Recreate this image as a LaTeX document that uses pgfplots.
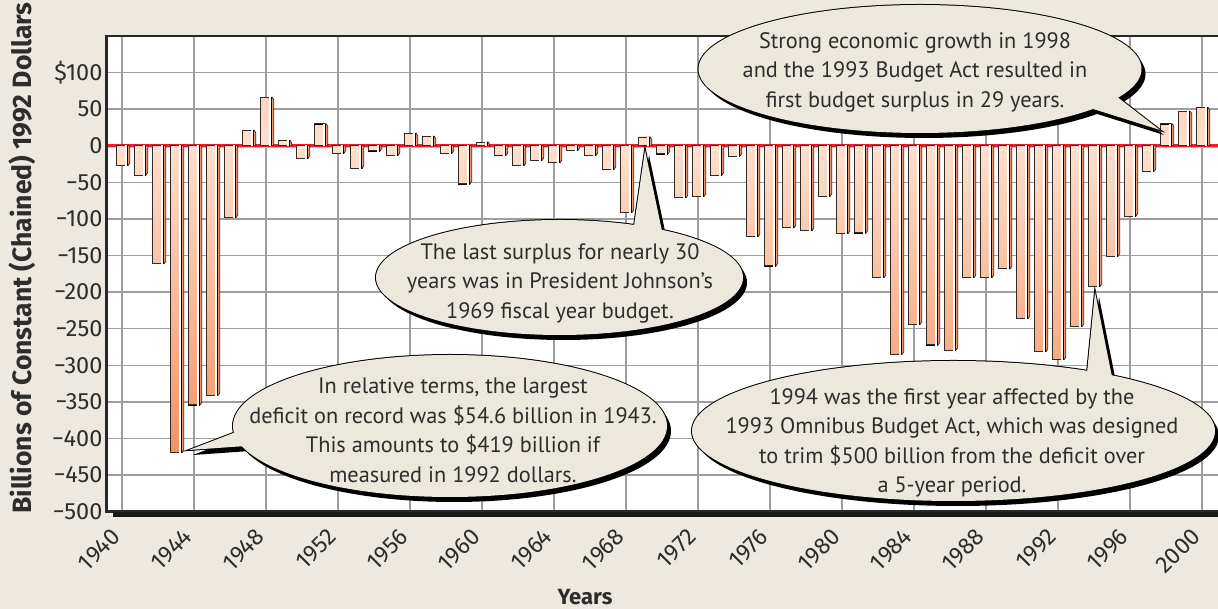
\documentclass[border=0pt]{standalone}
\usepackage{pgfplots}
\usepackage{pgfplotstable}
\pgfplotsset{compat=1.18}
\usepackage{fontspec}
\setmainfont{PT Sans}
\newfontfamily\tickfont{Fira Sans}
\definecolor{bg}{RGB}{237,233,224}
\definecolor{callbg}{RGB}{236,232,222}
\definecolor{gridgray}{RGB}{158,158,158}
\definecolor{zerored}{RGB}{236,30,40}
\definecolor{zeropink}{RGB}{250,170,170}
\definecolor{textdark}{RGB}{45,45,45}
\definecolor{framedark}{RGB}{40,40,40}
\definecolor{bardark}{RGB}{55,42,36}
\definecolor{barside}{RGB}{242,150,108}
\definecolor{barlight}{RGB}{253,224,206}
\definecolor{barorange}{RGB}{244,146,100}
\newcommand\calloutfont{\fontsize{22.3}{29.5}\selectfont}
\newcommand\callout[8]{%
 \fill[black] ([shift={(4,5)}]#1) ellipse [x radius=#2pt, y radius=#3pt];
 \fill[black] ([shift={(4,5)}]#5) -- ([shift={(4,5)}]#4) -- ([shift={(4,5)}]#6) -- cycle;
 \draw[black, line width=2pt] (#1) ellipse [x radius=#2pt, y radius=#3pt];
 \draw[black, line width=2pt, line join=miter] (#5) -- (#4) -- (#6);
 \fill[callbg] (#1) ellipse [x radius=#2pt, y radius=#3pt];
 \fill[callbg] (#5) -- (#4) -- (#6) -- cycle;
 \node[align=center, text=textdark, font=\calloutfont, inner sep=0pt] at (#7) {#8};
}
\pgfplotstableread{
year value
1940 -27
1941 -40
1942 -161
1943 -419
1944 -354
1945 -341
1946 -98
1947 21
1948 66
1949 7
1950 -17
1951 30
1952 -10
1953 -31
1954 -7
1955 -13
1956 17
1957 13
1958 -10
1959 -52
1960 5
1961 -13
1962 -27
1963 -20
1964 -23
1965 -6
1966 -13
1967 -32
1968 -91
1969 12
1970 -11
1971 -71
1972 -69
1973 -40
1974 -14
1975 -124
1976 -164
1977 -112
1978 -116
1979 -69
1980 -120
1981 -119
1982 -180
1983 -285
1984 -244
1985 -272
1986 -279
1987 -180
1988 -180
1989 -168
1990 -236
1991 -281
1992 -292
1993 -247
1994 -192
1995 -151
1996 -96
1997 -35
1998 30
1999 47
2000 52
}\deficit
\begin{document}
\begin{tikzpicture}
\path[use as bounding box, fill=bg] (-106pt,-97.3pt) rectangle (1112pt,511.7pt);
\begin{axis}[
  at={(0pt,0pt)}, anchor=south west,
  scale only axis, width=1112pt, height=475.8pt,
  xmin=1939.11, xmax=2000.89, ymin=-500, ymax=150,
  axis background/.style={fill=white},
  axis line style={draw=none},
  xtick={1940,1944,...,2000},
  xticklabels={1940,1944,1948,1952,1956,1960,1964,1968,1972,1976,1980,1984,1988,1992,1996,2000},
  ytick={-500,-450,...,100},
  yticklabels={−500,−450,−400,−350,−300,−250,−200,−150,−100,−50,0,50,\$100},
  grid=major, major grid style={draw=gridgray, line width=1.3pt},
  major tick length=0pt,
  tick label style={font=\tickfont\fontsize{23.5}{23.5}\selectfont, text=textdark},
  xticklabel style={xshift=-11.5pt, yshift=-15pt, rotate=45, anchor=north east, inner sep=0pt},
]
\addplot[scatter, only marks, mark=*, mark size=0pt, mark options={draw=none, fill=none},
  visualization depends on={\thisrow{value} \as \rawy},
  scatter/@pre marker code/.code={%
    \begingroup
    \pgfmathsetmacro\h{-\rawy*0.732}%
    \pgfmathsetmacro\p{min(100,abs(\rawy)/4.2)}%
    \pgfmathtruncatemacro\isneg{\rawy<0}%
    \colorlet{farc}{barorange!\p!barlight}%
    \ifnum\isneg=1
      \colorlet{topc}{barlight}\colorlet{botc}{farc}\def\d{2.5}%
    \else
      \colorlet{topc}{farc}\colorlet{botc}{barlight}\def\d{-2.5}%
    \fi
    \filldraw[fill=barside, draw=bardark, line width=0.8pt, line join=round]
      (4.7pt,\h pt) -- (4.7pt,0pt) -- (6.2pt,0pt) -- (7.7pt,\d pt) -- (7.7pt,\h pt) -- cycle;
    \shade[top color=topc, bottom color=botc] (-5.5pt,0pt) rectangle (4.7pt,\h pt);
    \draw[bardark, line width=0.8pt] (-5.5pt,0pt) rectangle (4.7pt,\h pt);
    \fill[white, fill opacity=0.75] (2.7pt,0pt) rectangle (3.8pt,\h pt);
    \endgroup
  },
  scatter/@post marker code/.code={},
] table[x=year, y=value] {\deficit};
\draw[zeropink, line width=4pt] (axis cs:1939.11,0) -- (axis cs:2000.89,0);
\draw[zerored, line width=2.4pt] (axis cs:1939.11,0) -- (axis cs:2000.89,0);
\end{axis}
\begin{scope}[shift={(-106pt,511.7pt)}, x=1pt, y=-1pt]
 \fill[framedark] (105.5,35) rectangle (1218,37.5);
 \fill[framedark] (105.5,35) rectangle (108,512.5);
 \fill[framedark] (105.5,510.5) rectangle (1218,513);
 \fill[black!90] (113,512.5) rectangle (1218,517.5);
 \callout{559.5,277.5}{183.5}{57.5}{645,150}{634,226}{662,231}{560,283}{The last surplus for nearly 30\\years was in President Johnson’s\\1969 fiscal year budget.}
 \callout{450,426}{217}{71}{189,450}{236,432}{246,446}{453,430}{In relative terms, the largest\\deficit on record was \$54.6 billion in 1943.\\This amounts to \$419 billion if\\measured in 1992 dollars.}
 \callout{953.5,431}{261.5}{70}{1095,292}{1087,373}{1112,377}{952,443}{1994 was the first year affected by the\\1993 Omnibus Budget Act, which was designed\\to trim \$500 billion from the deficit over\\a 5-year period.}
 \callout{920,69}{221.5}{64}{1160,130}{1116,96}{1090,108}{915,72}{Strong economic growth in 1998\\and the 1993 Budget Act resulted in\\first budget surplus in 29 years.}
 \node[rotate=90, font=\tickfont\bfseries\fontsize{26.5}{26.5}\selectfont, text=textdark] at (22,258) {Billions of Constant (Chained) 1992 Dollars};
 \node[font=\tickfont\bfseries\fontsize{22}{22}\selectfont, text=textdark] at (585,597) {Years};
\end{scope}
\end{tikzpicture}
\end{document}
